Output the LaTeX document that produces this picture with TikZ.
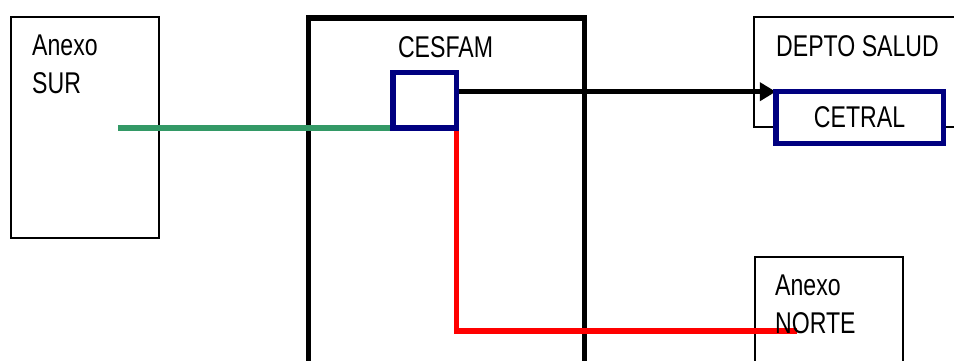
\documentclass[tikz,border=0pt]{standalone}
\usepackage{fontspec}
\setmainfont[FakeStretch=0.77]{Liberation Sans}
\usepackage{tikz}
\usetikzlibrary{calc}
\usetikzlibrary{arrows.meta, backgrounds}
\definecolor{linkgreen}{RGB}{51,153,102}
\definecolor{boxnavy}{RGB}{0,0,128}
\tikzstyle{thinbox} = [rectangle, 
draw=black, 
line width=2pt, 
inner sep=0pt, 
outer sep=0pt]
\tikzstyle{thickbox} = [thinbox, line width=5.5pt]
\tikzstyle{navybox} = [rectangle, 
draw=boxnavy, 
line width=5.5pt, 
fill=white, 
inner sep=0pt, 
outer sep=0pt, 
font=\fontsize{30}{38}\selectfont]
\tikzstyle{lbl} = [anchor=north west, inner sep=0pt, align=left, font=\fontsize{30}{38}\selectfont]
\tikzstyle{link} = [line width=5.5pt]
\tikzstyle{arrow} = [line width=5.5pt,-{Triangle[length=16pt,width=18pt]}]

\begin{document}
\begin{tikzpicture}[x=1pt, y=-1pt]
    \clip (0,0) rectangle (954,361);

    % Centres and their links
    \node (hub) [navybox, minimum width=63.7pt, minimum height=55.3pt] at (424.85,100.35) {};
    \node (cetral) [navybox, minimum width=167.5pt, minimum height=51.6pt] at (859.55,117.5) {CETRAL};

    \node (surtext) [lbl] at (32,35) {Anexo\\SUR};
    \node (cesfamtext) [lbl, anchor=north] at (445.5,36) {CESFAM};
    \node (deptotext) [lbl] at (776,35) {DEPTO SALUD};
    \node (nortetext) [lbl] at (775,275) {Anexo\\NORTE};

    \begin{pgfonlayer}{background}
        \node (sur) [thinbox, minimum width=148.6pt, minimum height=221pt] at (85,127.8) {};
        \node (cesfam) [thickbox, minimum width=276pt, minimum height=400pt] at (446.5,218) {};
        \node (depto) [thinbox, minimum width=230pt, minimum height=110pt] at (869,71.7) {};
        \node (norte) [thinbox, minimum width=148pt, minimum height=150pt] at (829,331.7) {};

        % Links
        \coordinate (surend) at (118,128);
        \coordinate (norteend) at (797,330.8);
        \draw [link, linkgreen] (surend) -- (hub.south west);
        \draw [arrow] (hub.east |- cetral.north west) -- (cetral.north west);
        \draw [link, red] (hub.south east) |- (norteend);
    \end{pgfonlayer}
\end{tikzpicture}
\end{document}
